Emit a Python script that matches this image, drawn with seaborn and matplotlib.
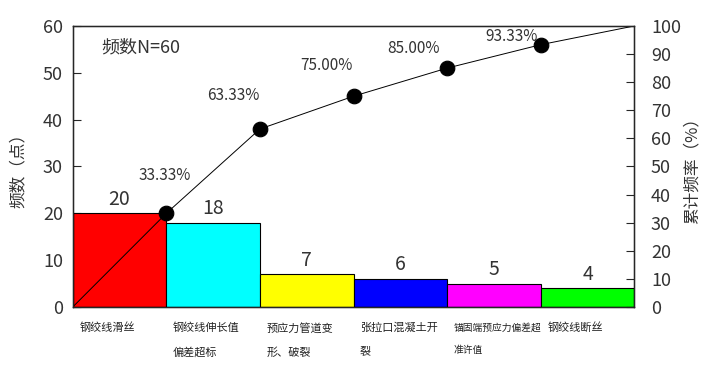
import numpy as np
import pandas as pd
import seaborn as sns
import matplotlib.pyplot as plt

# data
categories = ["钢绞线滑丝", "钢绞线伸长值\n偏差超标", "预应力管道变\n形、破裂",
              "张拉口混凝土开\n裂", "锚固端预应力偏差超\n准许值", "钢绞线断丝"]
counts = [20, 18, 7, 6, 5, 4]
cum_pct = [33.33, 63.33, 75.00, 85.00, 93.33, 100.0]
bar_colors = ["#ff0000", "#00ffff", "#ffff00", "#0000ff", "#ff00ff", "#00ff00"]

sns.set_style("white")
plt.rcParams['font.family'] = ['Noto Sans CJK SC', 'DejaVu Sans']
txt = "#333333"

fig = plt.figure(figsize=(7.2, 3.76), dpi=100)
ax = fig.add_axes([0.101, 0.1835, 0.78, 0.7475])

df = pd.DataFrame({"cat": categories, "n": counts})
sns.barplot(data=df, x="cat", y="n", hue="cat", palette=bar_colors, legend=False,
            width=1.0, edgecolor="black", linewidth=0.8, saturation=1, ax=ax)
ax.set_xlim(-0.5, len(counts) - 0.5)
ax.set_ylim(0, 60)
ax.set_yticks(range(0, 61, 10))
ax.set_xticks([])
ax.set_xlabel("")
ax.set_ylabel("频数（点）", fontsize=12, color=txt, labelpad=12)
ax.tick_params(axis="y", direction="in", length=6, labelsize=13, labelcolor=txt, left=True, pad=7)
for s in ax.spines.values():
    s.set_color("black")
    s.set_linewidth(1)

# bar value labels
for i, v in enumerate(counts):
    ax.text(i, v + 3, str(v), ha="center", va="center", fontsize=14, color=txt)

# category labels under bars
for i, c in enumerate(categories):
    ax.text(i - 0.43, -0.055, c, transform=ax.get_xaxis_transform(), ha="left", va="top",
            fontsize=7 if i == 4 else 8, color="#222222", linespacing=2.6)

ax.text(0.05, 0.925, "频数N=60", transform=ax.transAxes, ha="left", va="center",
        fontsize=13, color=txt)

# cumulative line on twin axis
ax2 = ax.twinx()
line_x = [-0.5] + [i + 0.5 for i in range(len(counts))]
line_y = [0] + cum_pct
sns.lineplot(x=line_x, y=line_y, color="black", linewidth=0.7, ax=ax2)
sns.scatterplot(x=line_x[1:-1], y=line_y[1:-1], color="black", s=110, edgecolor="black", ax=ax2, zorder=5)
ax2.set_ylim(0, 100)
ax2.set_yticks(range(0, 101, 10))
ax2.set_ylabel("累计频率（%）", fontsize=12, color=txt, rotation=90, labelpad=2)
ax2.tick_params(axis="y", direction="in", length=6, labelsize=13, labelcolor=txt, right=True, pad=12)
ax2.grid(False)

offsets = [(-1.5, 27), (0, 24), (-1, 22), (-5, 14), (-2, 6)]
for i, (p, off) in enumerate(zip(cum_pct[:-1], offsets)):
    ax2.annotate(f"{p:.2f}%", (i + 0.5, p), xytext=off, textcoords="offset points",
                 ha="right" if i else "center", va="center", fontsize=11, color=txt)

fig.savefig("out.png", dpi=100)
